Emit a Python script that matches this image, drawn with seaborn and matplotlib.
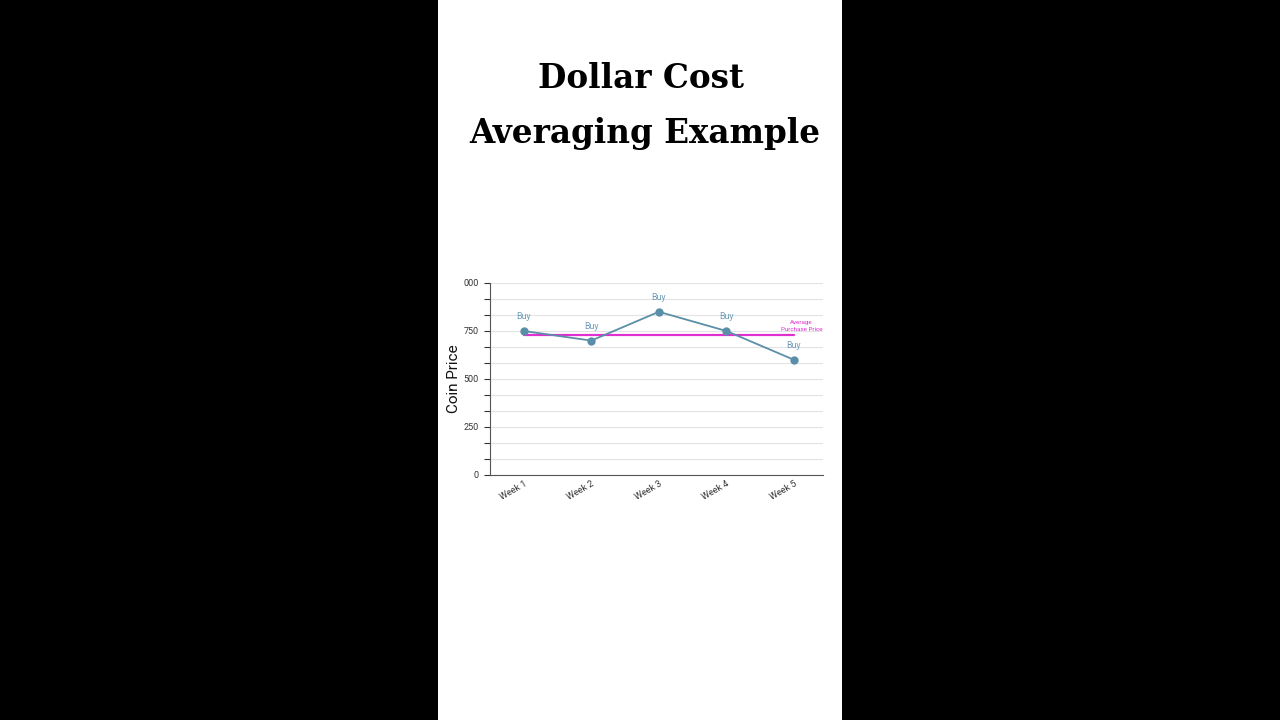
import matplotlib
matplotlib.use("Agg")
import matplotlib.pyplot as plt
import seaborn as sns
import pandas as pd
import numpy as np
from matplotlib.patches import Rectangle

# Data
weeks = ["Week 1", "Week 2", "Week 3", "Week 4", "Week 5"]
prices = [750, 700, 850, 750, 600]
point_labels = ["Buy", "Buy", "Buy", "Buy", "Buy"]
avg_price = np.mean(prices)  # 730
ytick_values = [0, 250, 500, 750, 1000]
ytick_labels = ["0", "250", "500", "750", "000"]

df = pd.DataFrame({"Week": weeks, "Price": prices})
df["pos"] = range(len(weeks))

sns.set_theme(style="white")
plt.rcParams["font.family"] = ["Roboto", "DejaVu Sans"]

fig = plt.figure(figsize=(12.8, 7.2), dpi=100)
fig.patch.set_facecolor("black")
# white portrait panel in the middle
fig.patches.append(Rectangle((438 / 1280, 0), 404 / 1280, 1, transform=fig.transFigure,
                             facecolor="white", edgecolor="none", zorder=-5))

fig.text(641 / 1280, 1 - 78 / 720, "Dollar Cost", ha="center", va="center",
         fontsize=23.5, fontweight="heavy", family=["DejaVu Serif"], color="black")
fig.text(645 / 1280, 1 - 133 / 720, "Averaging Example", ha="center", va="center",
         fontsize=23.5, fontweight="heavy", family=["DejaVu Serif"], color="black")

ax = fig.add_axes([490 / 1280, 1 - 475 / 720, 333 / 1280, 192 / 720])
ax.set_facecolor("white")

line_color = "#5b8fa8"
avg_color = "#e030d0"

ax.plot([df["pos"].iloc[0], df["pos"].iloc[-1]], [avg_price, avg_price],
        color=avg_color, lw=1.6, zorder=2)
sns.lineplot(data=df, x="pos", y="Price", ax=ax, color=line_color, lw=1.3,
             marker="o", markersize=6, markeredgewidth=0, zorder=3)

for x, y, t in zip(df["pos"], df["Price"], point_labels):
    ax.annotate(t, (x, y), xytext=(0, 7), textcoords="offset points",
                ha="center", va="bottom", fontsize=6.3, color="#6d9cb8")

ax.text(4.11, avg_price + 15, "Average\nPurchase Price", ha="center", va="bottom",
        fontsize=4.5, color=avg_color, linespacing=1.6)

ax.set_xlim(-0.5, 4.43)
ax.set_ylim(0, 1000)
ax.set_yticks(np.arange(0, 1001, 1000 / 12), minor=True)
ax.set_yticks(ytick_values)
ax.set_yticklabels(ytick_labels)
ax.grid(True, which="both", axis="y", color="#e3e3e3", lw=0.8)
ax.set_xticks(df["pos"])
ax.set_xticklabels(weeks, rotation=30, ha="right", rotation_mode="anchor",
                   fontsize=6.5, color="#333333")
ax.tick_params(axis="y", which="both", labelsize=6.5, colors="#333333",
               left=True, length=4, width=0.8, pad=4)
ax.tick_params(axis="y", which="minor", labelleft=False)
ax.tick_params(axis="x", length=0, pad=3)

for s in ["top", "right"]:
    ax.spines[s].set_visible(False)
for s in ["left", "bottom"]:
    ax.spines[s].set_color("#555555")
    ax.spines[s].set_linewidth(0.8)

ax.set_xlabel("")
ax.set_ylabel("Coin Price", fontsize=11, color="#111111", labelpad=2)
ax.yaxis.set_label_coords(-0.088, 0.5)

fig.savefig("out.png", dpi=100, facecolor=fig.get_facecolor())
